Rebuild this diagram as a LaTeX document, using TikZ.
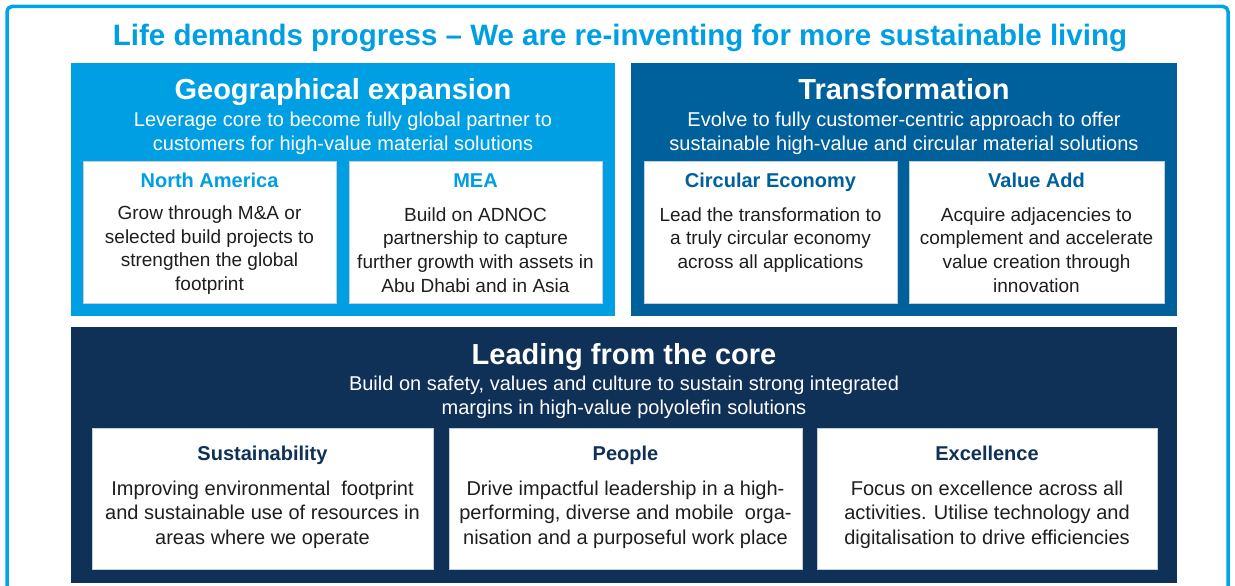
\documentclass[tikz,border=0pt]{standalone}
\usepackage{fontspec}
\setmainfont{Liberation Sans}
\usetikzlibrary{positioning}

\definecolor{geoblue}{HTML}{009FE3}
\definecolor{transblue}{HTML}{00609C}
\definecolor{coreblue}{HTML}{0F3157}
\definecolor{framecol}{HTML}{00A4E8}
\definecolor{bodygrey}{HTML}{1E1E1E}
\definecolor{edgegrey}{HTML}{C5CFDA}

\begin{document}
\begin{tikzpicture}[x=1pt,y=-1pt,
  maintitle/.style={font=\fontsize{29.5}{32}\selectfont\bfseries,text=geoblue,inner sep=0pt,anchor=base},
  headline/.style={font=\fontsize{29}{32}\selectfont\bfseries,text=white,inner sep=0pt,anchor=base},
  subline/.style={font=\fontsize{20}{24}\selectfont,text=white,align=center,inner sep=0pt},
  boxhead/.style={font=\fontsize{20}{24}\selectfont\bfseries,inner sep=0pt,anchor=base},
  boxtext/.style={font=\fontsize{19}{23.7}\selectfont,text=bodygrey,align=center,inner sep=0pt},
  coretext/.style={font=\fontsize{20}{24.5}\selectfont,text=bodygrey,align=center,inner sep=0pt},
  whitebox/.style={fill=white,draw=edgegrey,line width=0.8pt}]
 \useasboundingbox (0,0) rectangle (1235,586);
 \clip (0,0) rectangle (1235,586);
 \fill[white] (0,0) rectangle (1235,586);
 \draw[framecol,line width=3.5pt,rounded corners=5pt] (7,6.5) rectangle (1228,620);
 \node[maintitle] (title) at (620,45.5) {Life demands progress -- We are re-inventing for more sustainable living};

 % upper panels
 \fill[geoblue] (71,63) rectangle (615,316);
 \fill[transblue] (631,63) rectangle (1177,316);
 \draw[whitebox] (83,161) rectangle (336,303);
 \draw[whitebox] (349,161) rectangle (602,303);
 \draw[whitebox] (644,161) rectangle (897,303);
 \draw[whitebox] (909,161) rectangle (1164,303);

 \node[headline] (geo) at (343,99.5) {Geographical expansion};
 \node[subline] (geo-sub) at (343,133) {Leverage core to become fully global partner to\\customers for high-value material solutions};
 \node[headline] (trans) at (904,99.5) {Transformation};
 \node[subline] (trans-sub) at (904,133) {Evolve to fully customer-centric approach to offer\\sustainable high-value and circular material solutions};

 \node[boxhead,text=geoblue] (na) at (209.5,187) {North America};
 \node[boxtext] (na-text) at (209.5,250) {Grow through M\&A or\\selected build projects to\\strengthen the global\\footprint};
 \node[boxhead,text=geoblue] (mea) at (475.5,187) {MEA};
 \node[boxtext] (mea-text) at (475.5,250) {Build on ADNOC\\partnership to capture\\further growth with assets in\\Abu Dhabi and in Asia};
 \node[boxhead,text=transblue] (ce) at (770.5,187) {Circular Economy};
 \node[boxtext] (ce-text) at (770.5,240) {Lead the transformation to\\a truly circular economy\\across all applications};
 \node[boxhead,text=transblue] (va) at (1036.5,187) {Value Add};
 \node[boxtext] (va-text) at (1036.5,250) {Acquire adjacencies to\\complement and accelerate\\value creation through\\innovation};

 % lower panel
 \fill[coreblue] (71,327) rectangle (1177,583);
 \draw[whitebox] (92,428) rectangle (433,569);
 \draw[whitebox] (449,428) rectangle (802,569);
 \draw[whitebox] (817,428) rectangle (1157,569);

 \node[headline] (core) at (624,364.5) {Leading from the core};
 \node[subline] (core-sub) at (624,397) {Build on safety, values and culture to sustain strong integrated\\margins in high-value polyolefin solutions};

 \node[boxhead,text=coreblue] (sust) at (262.5,460) {Sustainability};
 \node[coretext] (sust-text) at (262.5,514.5) {Improving environmental\ \ footprint\\and sustainable use of resources in\\areas where we operate};
 \node[boxhead,text=coreblue] (people) at (625.5,460) {People};
 \node[coretext] (people-text) at (625.5,514.5) {Drive impactful leadership in a high-\\performing, diverse and mobile\ \ orga-\\nisation and a purposeful work place};
 \node[boxhead,text=coreblue] (exc) at (987,460) {Excellence};
 \node[coretext] (exc-text) at (987,514.5) {Focus on excellence across all\\activities. Utilise technology and\\digitalisation to drive efficiencies};
\end{tikzpicture}
\end{document}
